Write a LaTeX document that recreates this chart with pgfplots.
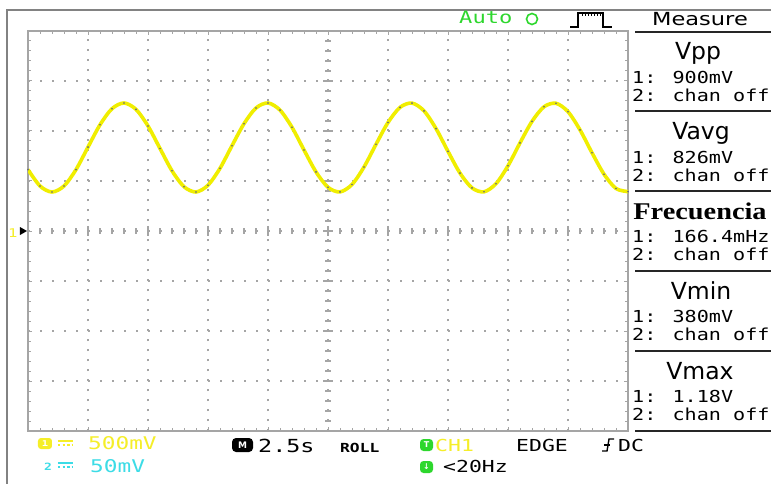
\documentclass[border=0pt]{standalone}
\usepackage{pgfplots}
\usepackage{pgfplotstable}
\pgfplotsset{compat=1.18}
\usepackage{fontspec}
\setmainfont{DejaVu Sans}
\newfontfamily\scopefont[FakeStretch=1.3]{DejaVu Sans Mono}
\newfontfamily\panelfont[FakeStretch=1.22]{DejaVu Sans Mono}
\newfontfamily\headfont{DejaVu Sans}
\newfontfamily\measfont[FakeStretch=1.25]{DejaVu Sans}
\newfontfamily\freqfont[FakeStretch=1.18]{Liberation Serif}
\definecolor{trace}{RGB}{240,238,0}
\definecolor{gridc}{RGB}{165,165,165}
\definecolor{scyellow}{RGB}{245,238,40}
\definecolor{sccyan}{RGB}{60,220,230}
\definecolor{scgreen}{RGB}{45,215,45}
\definecolor{framec}{RGB}{130,130,130}

\pgfplotstableread{
t v
0.0 0.614
0.5 0.450
1.0 0.390
1.5 0.450
2.0 0.614
2.5 0.839
3.0 1.062
3.5 1.223
4.0 1.280
4.5 1.216
5.0 1.050
5.5 0.825
6.0 0.602
6.5 0.443
7.0 0.390
7.5 0.458
8.0 0.627
8.5 0.853
9.0 1.073
9.5 1.230
10.0 1.280
10.5 1.209
11.0 1.037
11.5 0.810
12.0 0.591
12.5 0.437
13.0 0.391
13.5 0.465
14.0 0.640
14.5 0.867
15.0 1.085
15.5 1.236
16.0 1.279
16.5 1.201
17.0 1.024
17.5 0.796
18.0 0.579
18.5 0.431
19.0 0.392
19.5 0.473
20.0 0.652
20.5 0.881
21.0 1.096
21.5 1.242
22.0 1.277
22.5 1.193
23.0 1.011
23.5 0.782
24.0 0.568
24.5 0.425
25.0 0.394
}\chone

\begin{document}
\begin{tikzpicture}
\path[use as bounding box] (-28pt,-52pt) rectangle (743pt,431pt);
\clip (-28pt,-52pt) rectangle (743pt,431pt);
\fill[white] (-28pt,-52pt) rectangle (743pt,431pt);

% ---------- background decorations (image pixel coordinates) ----------
\begin{scope}[x=1pt,y=-1pt,shift={(-28pt,431pt)}]
  \draw[framec, line width=2pt] (780,10) -- (7,10) -- (7,490);
  % centre cross ticks
  \foreach \yy in {31,41,...,431} \draw[gridc, line width=1.3pt] (325,\yy) -- (331,\yy);
  \foreach \yy in {31,81,...,431} \draw[gridc, line width=1.3pt] (323,\yy) -- (333,\yy);
  \foreach \xx in {28,40,...,628} \draw[gridc, line width=1.3pt] (\xx,228) -- (\xx,234);
  \foreach \xx in {28,88,...,628} \draw[gridc, line width=1.3pt] (\xx,226) -- (\xx,236);
\end{scope}

\begin{axis}[
  at={(0pt,0pt)}, anchor=south west,
  scale only axis, width=600pt, height=400pt,
  xmin=0, xmax=25, ymin=-2, ymax=2,
  xtick={0,2.5,...,25}, ytick={-2,-1.5,...,2},
  xticklabels={}, yticklabels={},
  minor x tick num=4, minor y tick num=4,
  tick align=inside,
  major tick length=4pt, minor tick length=3pt,
  every tick/.style={gridc, line width=1pt},
  axis line style={gridc, line width=1.8pt},
  grid=major,
  major x grid style={gridc, line width=1.6pt, dash pattern=on 1.6pt off 8.4pt},
  major y grid style={gridc, line width=1.6pt, dash pattern=on 1.6pt off 10.4pt},
]
\addplot[trace, line width=3.6pt, smooth] table[x=t,y=v] {\chone};
\addplot[only marks, mark=*, mark size=0.65pt, black!55, mark options={draw=black!55, fill=black!55}] table[x=t,y=v] {\chone};
\end{axis}

% ---------- texts and panel (image pixel coordinates) ----------
\begin{scope}[x=1pt,y=-1pt,shift={(-28pt,431pt)},
   mono/.style={anchor=base west, inner sep=0pt, font=\scopefont\fontsize{16.5}{16.5}\selectfont},
   pmono/.style={anchor=base west, inner sep=0pt, font=\panelfont\fontsize{16.5}{16.5}\selectfont},
   head/.style={anchor=base, inner sep=0pt, font=\headfont\fontsize{23.5}{23.5}\selectfont}]
  % channel marker
  \node[anchor=base west, inner sep=0pt, text=scyellow, font=\scopefont\fontsize{12}{12}\selectfont] at (8,237) {1};
  \fill[black] (20,227) -- (27,231) -- (20,235) -- cycle;

  % top bar
  \node[mono, text=scgreen, font=\scopefont\fontsize{17}{17}\selectfont] at (459,24) {Auto};
  \draw[scgreen, line width=1.6pt] (532,19) circle (5.5pt);
  \draw[black, line width=1.6pt] (570,27) -- (578,27) -- (578,13) -- (603,13) -- (603,27) -- (612,27);
  \foreach \xx in {582,585,...,600} \draw[black, line width=0.8pt] (\xx,13) -- (\xx,16);

  % right panel
  \foreach \L in {32,111,191,271,351,431} \draw[black!85, line width=2pt] (635,\L) -- (775,\L);
  \node[anchor=base, inner sep=0pt, font=\measfont\fontsize{18}{18}\selectfont] at (700,26) {Measure};
  \node[head] at (698,60) {Vpp};
  \node[pmono] at (632,83) {1: 900mV};
  \node[pmono] at (632,101) {2: chan off};
  \node[head] at (701,140) {Vavg};
  \node[pmono] at (632,163) {1: 826mV};
  \node[pmono] at (632,181) {2: chan off};
  \node[anchor=base, inner sep=0pt, font=\freqfont\bfseries\fontsize{24}{24}\selectfont] at (700,219) {Frecuencia};
  \node[pmono] at (632,242) {1: 166.4mHz};
  \node[pmono] at (632,260) {2: chan off};
  \node[head] at (701,299) {Vmin};
  \node[pmono] at (632,322) {1: 380mV};
  \node[pmono] at (632,340) {2: chan off};
  \node[head] at (700,379) {Vmax};
  \node[pmono] at (632,402) {1: 1.18V};
  \node[pmono] at (632,420) {2: chan off};

  % bottom row 1
  \fill[scyellow, rounded corners=3pt] (38,438) rectangle (52,449);
  \node[anchor=center, inner sep=0pt, text=white, font=\scopefont\bfseries\fontsize{8}{8}\selectfont] at (45,443.5) {1};
  \draw[scyellow, line width=1.3pt] (58,441) -- (73,441);
  \draw[scyellow, line width=1.3pt, dash pattern=on 2.5pt off 2pt] (58,445) -- (73,445);
  \node[mono, text=scyellow, font=\scopefont\fontsize{17.5}{17.5}\selectfont] at (88,449) {500mV};
  \fill[black, rounded corners=4pt] (232,438) rectangle (253,452);
  \node[anchor=center, inner sep=0pt, text=white, font=\headfont\bfseries\fontsize{9}{9}\selectfont] at (242.5,445) {M};
  \node[mono, font=\scopefont\fontsize{18}{18}\selectfont] at (258,452) {2.5s};
  \node[mono, font=\scopefont\bfseries\fontsize{12.5}{12.5}\selectfont] at (340,452) {ROLL};
  \fill[scgreen, rounded corners=3.5pt] (420,439) rectangle (433,451);
  \node[anchor=center, inner sep=0pt, text=white, font=\headfont\bfseries\fontsize{8}{8}\selectfont] at (426.5,445) {T};
  \node[mono, text=scyellow] at (435,451) {CH1};
  \node[mono] at (516,451) {EDGE};
  \draw[black, line width=1.4pt] (602,451) -- (607,451) -- (609,439) -- (614,439);
  \draw[black, line width=1.2pt] (604,445) -- (610,445);
  \node[mono] at (618,451) {DC};

  % bottom row 2
  \node[anchor=base west, inner sep=0pt, text=sccyan, font=\scopefont\bfseries\fontsize{10}{10}\selectfont] at (44,470) {2};
  \draw[sccyan, line width=1.3pt] (58,463) -- (73,463);
  \draw[sccyan, line width=1.3pt, dash pattern=on 2.5pt off 2pt] (58,467) -- (73,467);
  \node[mono, text=sccyan, font=\scopefont\fontsize{17.5}{17.5}\selectfont] at (90,472) {50mV};
  \fill[scgreen, rounded corners=3.5pt] (420,461) rectangle (433,473);
  \node[anchor=center, inner sep=0pt, text=white, font=\headfont\bfseries\fontsize{8}{8}\selectfont] at (426.5,467) {↓};
  \node[mono] at (443,472) {<20Hz};
\end{scope}
\end{tikzpicture}
\end{document}
